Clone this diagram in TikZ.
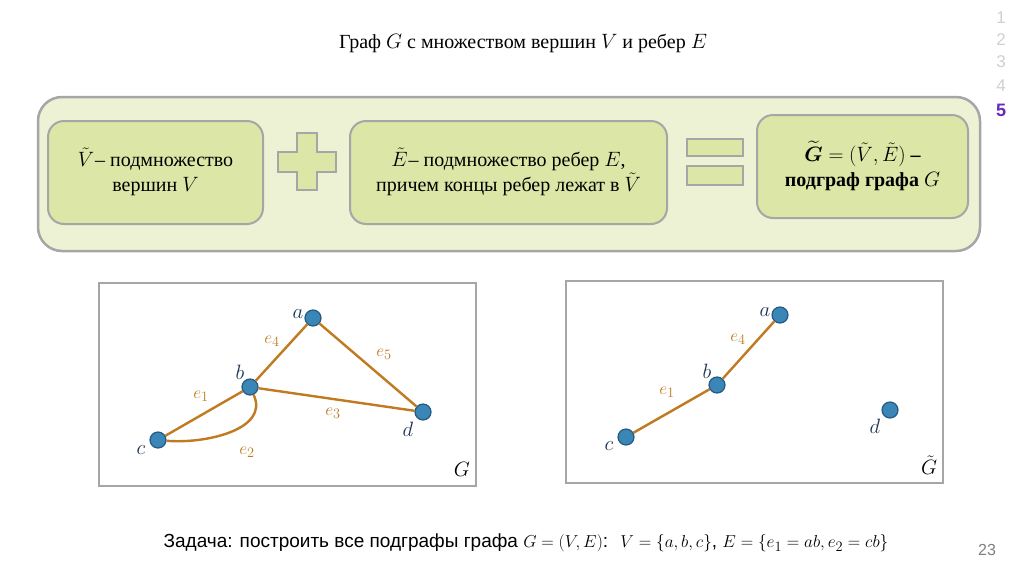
\documentclass[tikz,border=0pt]{standalone}
\usepackage{amsmath,amssymb}
\usepackage{fontspec}
\setmainfont{Liberation Serif}
\newfontfamily\slidesans{Liberation Sans}

\definecolor{outerfill}{RGB}{238,242,212}
\definecolor{boxfill}{RGB}{220,230,166}
\definecolor{rimgray}{RGB}{166,166,166}
\definecolor{vtxblue}{RGB}{58,134,182}
\definecolor{vtxrim}{RGB}{36,90,130}
\definecolor{edgebrown}{RGB}{192,122,32}
\definecolor{labnavy}{RGB}{30,52,84}
\definecolor{numgray}{RGB}{208,208,208}
\definecolor{numpurple}{RGB}{102,40,190}

\tikzset{
  panel/.style={draw=rimgray, line width=2pt, fill=boxfill, rounded corners=16pt},
  vtx/.style={circle, draw=vtxrim, line width=1.2pt, fill=vtxblue, minimum size=16pt, inner sep=0pt},
  gedge/.style={edgebrown, line width=2.4pt},
  vlab/.style={text=labnavy, font=\fontsize{20}{24}\selectfont},
  elab/.style={text=edgebrown, font=\fontsize{19}{22}\selectfont},
  frame/.style={draw=rimgray, line width=2pt},
  boxtext/.style={align=center, font=\fontsize{20}{25}\selectfont}
}

\begin{document}
\begin{tikzpicture}[x=1pt,y=-1pt]

\useasboundingbox[fill=white] (0,0) rectangle (1024,574);

% Title
\node[font=\fontsize{20}{24}\selectfont] (title) at (523,43) {Граф $G$ с множеством вершин $V$ и ребер $E$};

% Slide numbers
\foreach \n/\y in {1/18,2/40,3/62,4/86} {
  \node[font=\slidesans\fontsize{17}{19}\selectfont, text=numgray] (num\n) at (1001,\y) {\n};
}
\node[font=\slidesans\bfseries\fontsize{18}{20}\selectfont, text=numpurple] (num5) at (1001,110) {5};

% Definition band
\draw[draw=rimgray, line width=2.5pt, fill=outerfill, rounded corners=24pt] (38,97) rectangle (980,251);

\draw[panel] (48,121) rectangle (263,224);
\node[boxtext] (vsub) at (155.5,172) {$\tilde{V}$\kern1pt– подмножество\\вершин $V$};

% Plus sign
\draw[draw=rimgray, line width=1.5pt, fill=boxfill]
  (297,133) -- (317,133) -- (317,152) -- (336,152) -- (336,172) -- (317,172)
  -- (317,190) -- (297,190) -- (297,172) -- (278,172) -- (278,152) -- (297,152) -- cycle;

\draw[panel] (350,121) rectangle (667,224);
\node[boxtext] (esub) at (508.5,172) {$\tilde{E}$\kern1pt– подмножество ребер $E$,\\причем концы ребер лежат в $\tilde{V}$};

% Equals sign
\draw[draw=rimgray, line width=1.5pt, fill=boxfill] (687,139) rectangle (743,156);
\draw[draw=rimgray, line width=1.5pt, fill=boxfill] (687,166) rectangle (743,185);

\draw[panel] (757,115) rectangle (968,218);
\node[boxtext, font=\bfseries\fontsize{20}{25}\selectfont] (gsub) at (862.5,166) {$\widetilde{\boldsymbol{G}} = (\tilde{V},\tilde{E})$ –\\подграф графа $G$};

% Graph G
\draw[frame] (99,283) rectangle (476,486);

\node[vtx] (a) at (313,318) {};
\node[vtx] (b) at (250,387) {};
\node[vtx] (c) at (158,440) {};
\node[vtx] (d) at (423,412) {};

\draw[gedge] (b) -- (a);
\draw[gedge] (a) -- (d);
\draw[gedge] (b) -- (d);
\draw[gedge] (c) -- (b);
\draw[gedge] (b) to[out=-65,in=-5] (c);

\node[vlab] (la) at (298,314) {$a$};
\node[vlab] (lb) at (240,372) {$b$};
\node[vlab] (lc) at (141,450) {$c$};
\node[vlab] (ld) at (408,429) {$d$};

\node[elab] (le4) at (272,341) {$e_4$};
\node[elab] (le5) at (384,354) {$e_5$};
\node[elab] (le1) at (201,396) {$e_1$};
\node[elab] (le3) at (333,413) {$e_3$};
\node[elab] (le2) at (247,452) {$e_2$};

\node[vlab, text=black] (gname) at (462,469) {$G$};

% Subgraph
\draw[frame] (566,281) rectangle (943,483);

\node[vtx] (sa) at (780,315) {};
\node[vtx] (sb) at (717,385) {};
\node[vtx] (sc) at (626,437) {};
\node[vtx] (sd) at (890,410) {};

\draw[gedge] (sb) -- (sa);
\draw[gedge] (sc) -- (sb);

\node[vlab] (lsa) at (765,312) {$a$};
\node[vlab] (lsb) at (707,371) {$b$};
\node[vlab] (lsc) at (609,446) {$c$};
\node[vlab] (lsd) at (875,426) {$d$};

\node[elab] (lse4) at (738,339) {$e_4$};
\node[elab] (lse1) at (667,392) {$e_1$};

\node[vlab, text=black] (sgname) at (929,465) {$\tilde{G}$};

% Task
\node[font=\slidesans\fontsize{19}{22}\selectfont] (task) at (526,543)
  {Задача: построить все подграфы графа $G=(V,E)$:\; $V=\{a,b,c\}$, $E=\{e_1=ab, e_2=cb\}$};

\node[font=\slidesans\fontsize{16}{18}\selectfont, text=gray] (pagenum) at (987,550) {23};

\end{tikzpicture}
\end{document}
